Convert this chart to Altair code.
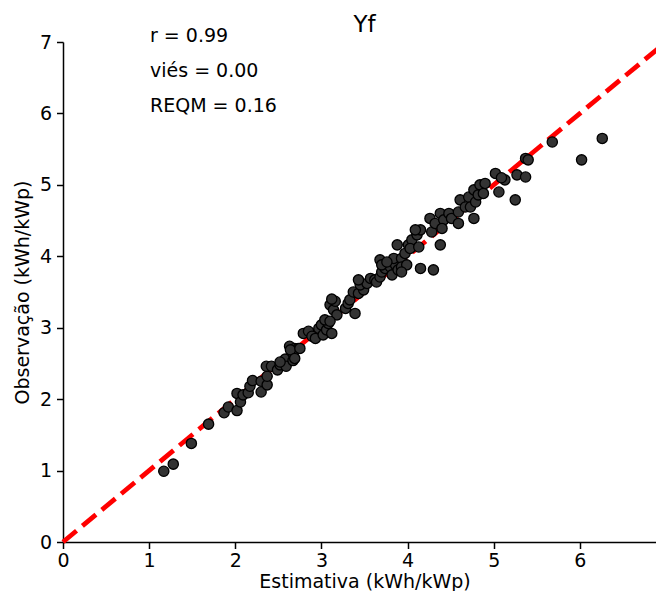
import altair as alt
import pandas as pd

est = [1.17, 1.28, 1.49, 1.69, 1.87, 1.92, 2.02, 2.02, 2.06, 2.09,
       2.15, 2.17, 2.20, 2.30, 2.30, 2.37, 2.37, 2.36, 2.42, 2.49,
       2.52, 2.58, 2.59, 2.63, 2.67, 2.69, 2.73, 2.67,
       2.52, 2.64, 2.69, 2.75,
       2.79, 2.85, 2.89, 2.93, 2.97, 3.00, 3.02, 3.06, 3.08, 3.12, 3.10, 3.14, 3.18, 3.16,
       3.04, 3.10, 3.12, 3.28, 3.31, 3.33, 3.39, 3.37, 3.43, 3.49,
       3.45, 3.53, 3.57, 3.62, 3.64, 3.68, 3.70, 3.68, 3.74, 3.80,
       3.82, 3.86, 3.84, 3.89, 3.93, 3.93, 3.99, 3.97, 3.88, 4.01,
       3.70, 3.76, 4.05, 4.03, 4.11, 4.13, 4.15, 4.09, 4.15, 4.30,
       4.38, 4.26, 4.28, 4.32, 4.38, 4.42, 4.48, 4.51, 4.59, 4.59,
       4.61, 4.67, 4.71,
       4.73, 4.77, 4.77, 4.79, 4.82, 4.84, 4.90, 4.88, 5.02, 5.06,
       5.13, 5.25, 5.27, 5.37, 5.37, 5.40, 5.68, 6.02, 6.26,
       5.09, 4.40, 3.93, 3.43]
obs = [0.99, 1.09, 1.38, 1.65, 1.81, 1.89, 1.84, 2.08, 1.96, 2.06,
       2.09, 2.18, 2.26, 2.10, 2.25, 2.20, 2.32, 2.46, 2.46, 2.41,
       2.48, 2.56, 2.46, 2.74, 2.54, 2.71, 2.71, 2.64,
       2.52, 2.69, 2.57, 2.71,
       2.92, 2.95, 2.88, 2.85, 2.99, 3.04, 2.90, 2.97, 3.06, 2.92, 3.32, 3.25, 3.18, 3.37,
       3.11, 3.09, 3.40, 3.27, 3.34, 3.39, 3.20, 3.50, 3.48, 3.53,
       3.60, 3.62, 3.69, 3.67, 3.64, 3.71, 3.78, 3.95, 3.83, 3.85,
       3.74, 3.88, 3.97, 3.81, 3.97, 3.85, 3.88, 4.04, 4.16, 4.16,
       3.88, 3.92, 4.23, 4.11, 4.30, 4.13, 4.37, 4.37, 3.83, 3.81,
       4.16, 4.53, 4.34, 4.46, 4.60, 4.51, 4.60, 4.53, 4.46, 4.62,
       4.79, 4.69, 4.83,
       4.69, 4.93, 4.53, 4.76, 4.86, 5.00, 5.02, 4.88, 5.16, 4.90,
       5.07, 4.79, 5.14, 5.11, 5.37, 5.35, 5.60, 5.35, 5.65,
       5.10, 4.39, 3.78, 3.67]

ref_line = [0, 7]
tick_values = [0, 1, 2, 3, 4, 5, 6, 7]

stat_labels = ["r = 0.99", "viés = 0.00", "REQM = 0.16"]
stat_x = [1.01, 1.01, 1.01]
stat_y = [7.08, 6.59, 6.10]

title_label = ["Yf"]
title_x = [3.5]
title_y = [7.24]

FONT = "DejaVu Sans"

df_pts = pd.DataFrame({"est": est, "obs": obs})
df_line = pd.DataFrame({"v": ref_line})
df_txt = pd.DataFrame({"label": stat_labels, "x": stat_x, "y": stat_y})
df_title = pd.DataFrame({"label": title_label, "x": title_x, "y": title_y})

# the reference's axes run slightly past the right edge of the picture
xs = alt.Scale(domain=[0, 7], range=[0, 603], nice=False, zero=True)
ys = alt.Scale(domain=[0, 7], nice=False, zero=True)

common_axis = dict(
    values=tick_values, format="d", grid=False,
    domainColor="black", domainWidth=1.5,
    tickColor="black", tickWidth=1.5, tickSize=6.5,
    labelFont=FONT, labelFontSize=19, labelColor="black",
    labelFlush=False, labelOverlap=False,
    titleFont=FONT, titleFontSize=19, titleFontWeight="normal", titleColor="black",
)

x_axis = alt.Axis(labelPadding=3, titlePadding=2, **common_axis)
y_axis = alt.Axis(labelPadding=5, titlePadding=7, **common_axis)

line = alt.Chart(df_line).mark_line(
    color="#ff0000", strokeWidth=4.75, strokeDash=[17.6, 7.6], clip=False
).encode(
    x=alt.X("v:Q", scale=xs, axis=x_axis, title="Estimativa (kWh/kWp)"),
    y=alt.Y("v:Q", scale=ys, axis=y_axis, title="Observação (kWh/kWp)"),
)

pts = alt.Chart(df_pts).mark_point(
    shape="circle", filled=True, fill="#333333", stroke="black",
    strokeWidth=1.3, size=105, opacity=1
).encode(
    x=alt.X("est:Q", scale=xs),
    y=alt.Y("obs:Q", scale=ys),
)

txt = alt.Chart(df_txt).mark_text(
    align="left", baseline="middle", font=FONT, fontSize=19, color="black", clip=False
).encode(
    x=alt.X("x:Q", scale=xs),
    y=alt.Y("y:Q", scale=ys),
    text="label:N",
)

ttl = alt.Chart(df_title).mark_text(
    align="center", baseline="middle", font=FONT, fontSize=23, color="black", clip=False
).encode(
    x=alt.X("x:Q", scale=xs),
    y=alt.Y("y:Q", scale=ys),
    text="label:N",
)

chart = alt.layer(line, pts, txt, ttl).properties(
    width=593, height=500,
    autosize=alt.AutoSizeParams(type="none"),
    padding={"left": 55, "top": 34, "right": 0, "bottom": 49},
).configure_view(stroke=None)

chart.save("out.html", embed_options={"renderer": "svg", "actions": False})
